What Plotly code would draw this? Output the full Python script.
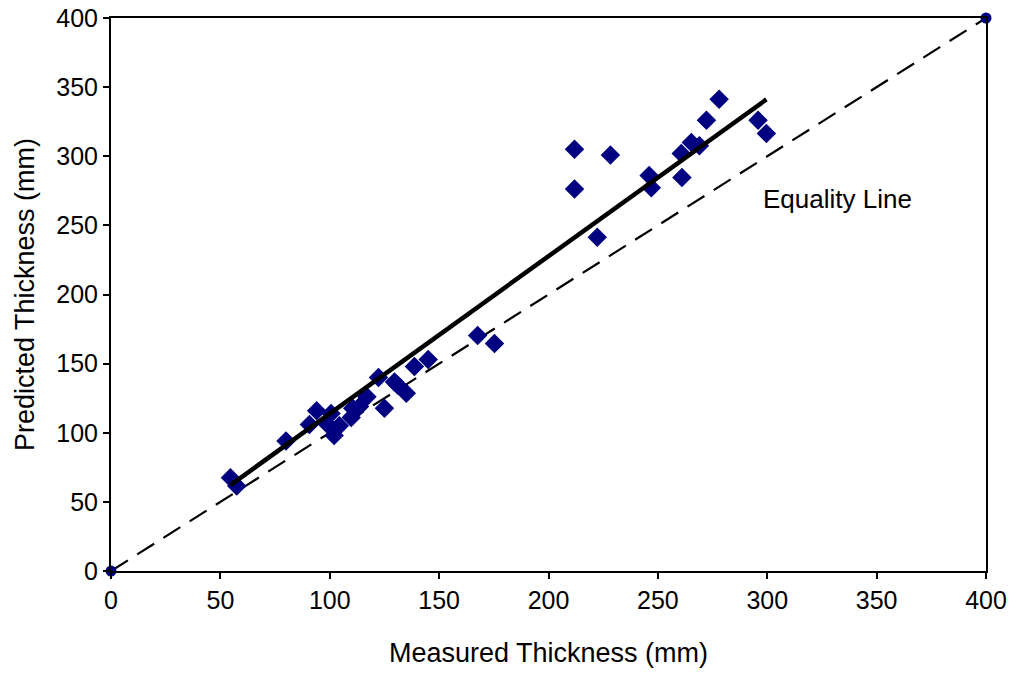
import plotly.graph_objects as go
import numpy as np

# measured vs predicted thickness (mm)
measured = [54.6, 57.5, 80, 90.7, 94, 99, 100.6, 102, 104.4, 109.8, 110.5, 113.6,
            117, 122.3, 125, 129.6, 131, 135, 138.7, 145, 167.6, 175.3,
            211.9, 211.9, 222.3, 228.3, 246, 247, 260.7, 261, 265.3, 269,
            272.2, 278, 295.8, 299.6]
predicted = [67.4, 61.5, 94, 106, 116, 106, 114, 98, 105, 111, 117.7, 119,
             126, 140, 117.7, 136.7, 134.5, 128.5, 148, 153, 170.4, 164.6,
             305, 276.3, 241.4, 300.9, 286, 277.2, 302, 284.7, 310, 307.6,
             326, 341.3, 326, 316.5]

equality = [0, 400]

# linear trend line forced through the origin
mx = np.array(measured)
my = np.array(predicted)
slope = (mx * my).sum() / (mx * mx).sum()
trend_x = np.array([mx.min(), mx.max()])
trend_y = slope * trend_x

navy = '#000080'
font = 'Liberation Sans, Arial, sans-serif'

fig = go.Figure()

fig.add_trace(go.Scatter(
    x=equality, y=equality,
    mode='lines+markers',
    line=dict(color='black', width=2.2, dash='20px,11px'),
    marker=dict(symbol='circle', size=11, color=navy),
    cliponaxis=False,
    showlegend=False
))

fig.add_trace(go.Scatter(
    x=measured, y=predicted,
    mode='markers',
    marker=dict(symbol='diamond', size=15, color=navy),
    showlegend=False
))

fig.add_trace(go.Scatter(
    x=trend_x, y=trend_y,
    mode='lines',
    line=dict(color='black', width=4.5),
    showlegend=False
))

fig.add_annotation(x=332, y=269, text='Equality Line', showarrow=False,
                   font=dict(size=26, color='black', family=font))

axis_style = dict(
    range=[0, 400], dtick=50,
    showgrid=False, zeroline=False, automargin=False,
    showline=True, linecolor='black', linewidth=2, mirror=True,
    ticks='outside', ticklen=6, tickwidth=2, tickcolor='black',
    ticklabeloverflow='allow',
    tickfont=dict(size=25, color='black', family=font),
)

fig.update_layout(
    width=1015, height=675,
    margin=dict(l=111, r=29, t=18, b=104),
    plot_bgcolor='white', paper_bgcolor='white',
    xaxis=dict(title=dict(text='Measured Thickness (mm)',
                          font=dict(size=27, color='black', family=font), standoff=30),
               **axis_style),
    yaxis=dict(title=dict(text='Predicted Thickness (mm)',
                          font=dict(size=27, color='black', family=font), standoff=14),
               **axis_style),
)

# drop the default page margin so the figure fills the window exactly
fig.write_html("out.html", config={'displayModeBar': False},
               post_script="document.body.style.margin='0';")
